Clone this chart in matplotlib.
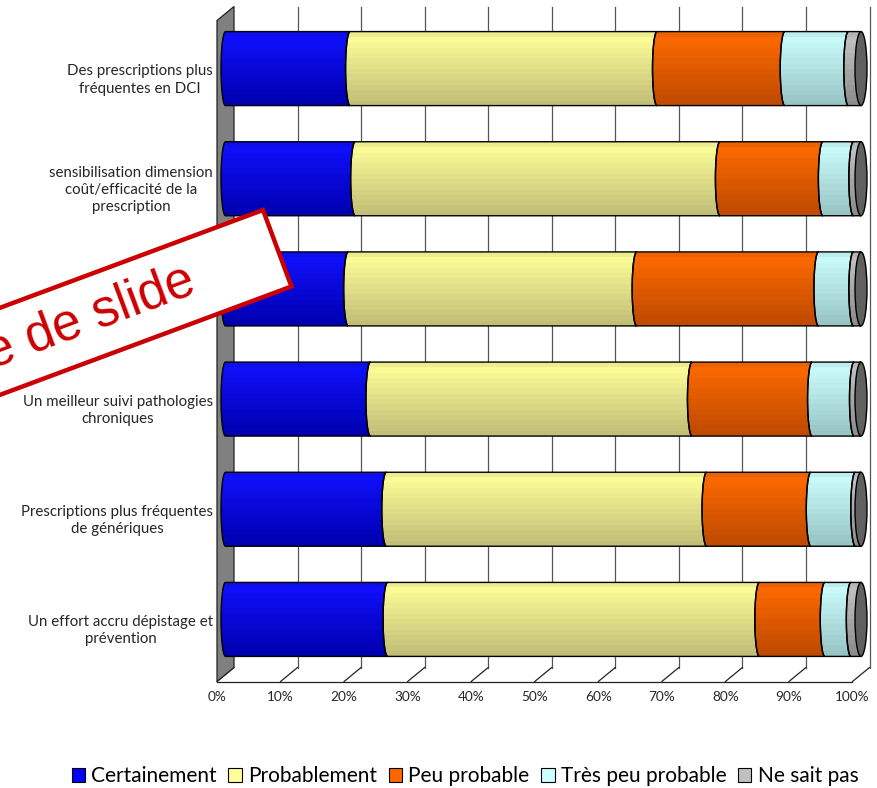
import matplotlib
matplotlib.use('Agg')
import matplotlib.pyplot as plt
import numpy as np
from matplotlib.patches import Polygon, Ellipse, Patch
from matplotlib.colors import to_rgb

# ---------------- data ----------------
categories = [
    "Des prescriptions plus\nfréquentes en DCI",
    "sensibilisation dimension\ncoût/efficacité de la\nprescription",
    "",  # label hidden under the stamp
    "Un meilleur suivi pathologies\nchroniques",
    "Prescriptions plus fréquentes\nde génériques",
    "Un effort accru dépistage et\nprévention",
]
series = ["Certainement", "Probablement", "Peu probable", "Très peu probable", "Ne sait pas"]
certainement = [19.6, 20.4, 19.3, 22.8, 25.3, 25.5]
probablement = [48.3, 57.4, 45.4, 50.6, 50.4, 58.5]
peu_probable = [20.1, 16.2, 28.6, 18.9, 16.4, 10.3]
tres_peu_probable = [10.0, 4.8, 5.5, 6.6, 7.0, 4.1]
ne_sait_pas = [2.0, 1.2, 1.2, 1.1, 0.9, 1.6]
ticks = [0, 10, 20, 30, 40, 50, 60, 70, 80, 90, 100]
tick_labels = ["0%", "10%", "20%", "30%", "40%", "50%", "60%", "70%", "80%", "90%", "100%"]
stamp_text = "Exemple de slide"

values = [certainement, probablement, peu_probable, tres_peu_probable, ne_sait_pas]
top_colors = ["#1010FF", "#FFFF99", "#FF6A00", "#CCFFFF", "#C4C4C4"]
bot_colors = ["#0000B0", "#C2BE78", "#BF4A00", "#98C4C4", "#8C8C8C"]
legend_colors = ["#0000FF", "#FFFF99", "#FF6600", "#CCFFFF", "#C0C0C0"]

FONT = ["Lato", "DejaVu Sans"]
plt.rcParams['font.family'] = FONT

W, H = 878, 788
fig = plt.figure(figsize=(W / 100, H / 100), dpi=100)
x0p, x1p = 225.5, 861.0          # pixel of 0% and 100% (mid-depth plane)
ytp, ybp = 13.5, 674.5
pxx = (x1p - x0p) / 100.0
pxy = (ybp - ytp) / 6.0
XMIN, XMAX = -4.0, 102.0
ax = fig.add_axes([(x0p + XMIN * pxx) / W, (H - ybp) / H,
                   (XMAX - XMIN) * pxx / W, (ybp - ytp) / H])
ax.set_xlim(XMIN, XMAX)
ax.set_ylim(-0.5, 5.5)
ax.axis('off')

DX = 8.5 / pxx   # depth offset (half) in data units
DY = 7.0 / pxy

n = len(categories)
ypos = [n - 1 - i for i in range(n)]

# ---------------- walls / grid ----------------
gcol = "#555555"
wall = Polygon([(-DX, 5.5 - DY), (DX, 5.5 + DY), (DX, -0.5 + DY), (-DX, -0.5 - DY)],
               closed=True, facecolor="#808080", edgecolor="#222222", lw=0.9,
               clip_on=False, zorder=1)
ax.add_patch(wall)
for t in ticks[1:]:
    ax.plot([t + DX, t + DX], [-0.5 + DY, 5.5 + DY], color=gcol, lw=0.9,
            clip_on=False, zorder=0.5)
for t in ticks:
    ax.plot([t + DX, t - DX], [-0.5 + DY, -0.5 - DY], color="#222222", lw=0.9,
            clip_on=False, zorder=0.5)
ax.plot([-DX, 100 - DX], [-0.5 - DY, -0.5 - DY], color="#222222", lw=0.9,
        clip_on=False, zorder=0.5)

# ---------------- cylinders ----------------
hh = 37.0 / pxy
a = 4.5 / pxx
acap = 6.0 / pxx
tt = np.linspace(-np.pi / 2, np.pi / 2, 40)
nb = 14
frac = np.linspace(0, 1, nb)[:, None]


def grad(c_top, c_bot):
    ct = np.array(to_rgb(c_top))
    cb = np.array(to_rgb(c_bot))
    g = ct[None, :] * (1 - frac) + cb[None, :] * frac
    g[0] = g[0] * 0.93
    return g[:, None, :]


for i, yc in enumerate(ypos):
    left = 0.0
    for s in range(len(series)):
        v = values[s][i]
        l, r = left, left + v
        left = r
        xs = list(l - a * np.cos(tt)) + list(r - a * np.cos(tt[::-1]))
        ys = list(yc + hh * np.sin(tt)) + list(yc + hh * np.sin(tt[::-1]))
        poly = Polygon(list(zip(xs, ys)), closed=True, facecolor='none',
                       edgecolor='black', lw=1.0, zorder=3)
        ax.add_patch(poly)
        im = ax.imshow(grad(top_colors[s], bot_colors[s]),
                       extent=(l - a, r, yc - hh, yc + hh), aspect='auto',
                       interpolation='nearest', zorder=2)
        im.set_clip_path(poly)
    cap = Ellipse((left, yc), 2 * acap, 2 * hh, facecolor="#606060",
                  edgecolor='black', lw=1.0, zorder=4)
    ax.add_patch(cap)

ax.set_xlim(XMIN, XMAX)
ax.set_ylim(-0.5, 5.5)

# ---------------- labels ----------------
for i, yc in enumerate(ypos):
    ax.text(-1.95, yc - DY - 0.04, categories[i], ha='right', va='center',
            multialignment='center', fontsize=10.8, color="#262626",
            linespacing=1.3, clip_on=False)
ytick = -0.5 - (697 - ybp) / pxy
for t, lab in zip(ticks, tick_labels):
    ax.text(t - DX, ytick, lab, ha='center', va='center', fontsize=9.8,
            color="#262626", clip_on=False)

handles = [Patch(facecolor=c, edgecolor='black', lw=0.8) for c in legend_colors]
fig.legend(handles, series, loc='center', bbox_to_anchor=(465 / W, 1 - 776 / H),
           ncol=5, frameon=False, fontsize=15, handlelength=0.65,
           handleheight=0.65, handletextpad=0.3, columnspacing=0.55,
           borderaxespad=0)

# ---------------- stamp overlay ----------------
ov = fig.add_axes([0, 0, 1, 1], zorder=10)
ov.set_xlim(0, W)
ov.set_ylim(H, 0)
ov.axis('off')
ang = np.deg2rad(20.4)
u = np.array([np.cos(ang), -np.sin(ang)])
nrm = np.array([np.sin(ang), np.cos(ang)])
TR = np.array([263.0, 210.0])
BR = TR + 81.6 * nrm
L = 600
TL = TR - L * u
BL = BR - L * u
ov.add_patch(Polygon([TL, TR, BR, BL], closed=True, facecolor='white',
                     edgecolor='#CC0000', lw=3.2, zorder=1))
cen = (TR + BR) / 2 - 90 * u
ov.text(cen[0], cen[1], stamp_text, ha='right', va='center', rotation=20.4,
        rotation_mode='anchor', fontsize=37, color='#CC0000',
        family=["Liberation Sans", "DejaVu Sans"], zorder=2)

fig.savefig("out.png", dpi=100)
